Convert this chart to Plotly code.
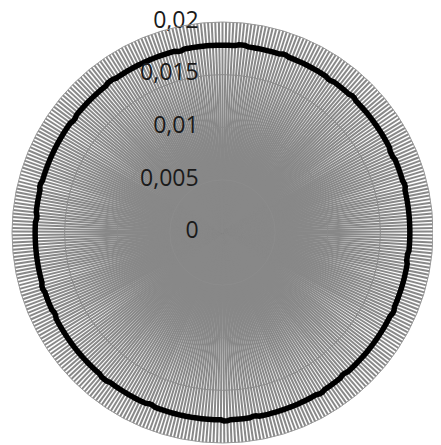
import plotly.graph_objects as go

# Daily values (black series) (roughly constant ~0.0178)
black_vals = [
    0.0178, 0.0178, 0.0178, 0.0178, 0.0178, 0.0179, 0.0179, 0.0179, 0.0178, 0.0178,
    0.0178, 0.0178, 0.0178, 0.0178, 0.0178, 0.0178, 0.0178, 0.0178, 0.0178, 0.0179,
    0.0179, 0.0178, 0.0178, 0.0178, 0.0178, 0.0178, 0.0178, 0.0178, 0.0178, 0.0178,
    0.0178, 0.0178, 0.0178, 0.0178, 0.0178, 0.0177, 0.0177, 0.0178, 0.0178, 0.0178,
    0.0178, 0.0178, 0.0178, 0.0178, 0.0179, 0.0179, 0.0178, 0.0178, 0.0178, 0.0178,
    0.0178, 0.0178, 0.0178, 0.0178, 0.0178, 0.0178, 0.0178, 0.0178, 0.0178, 0.0178,
    0.0178, 0.0178, 0.0178, 0.0178, 0.0178, 0.0177, 0.0177, 0.0177, 0.0178, 0.0178,
    0.0178, 0.0178, 0.0178, 0.0178, 0.0178, 0.0178, 0.0179, 0.0179, 0.0178, 0.0178,
    0.0178, 0.0178, 0.0178, 0.0178, 0.0178, 0.0178, 0.0178, 0.0178, 0.0178, 0.0178,
    0.0178, 0.0178, 0.0178, 0.0178, 0.0178, 0.0178, 0.0178, 0.0178, 0.0177, 0.0177,
    0.0177, 0.0178, 0.0178, 0.0178, 0.0178, 0.0178, 0.0178, 0.0178, 0.0178, 0.0178,
    0.0178, 0.0178, 0.0178, 0.0178, 0.0178, 0.0178, 0.0179, 0.0179, 0.0178, 0.0178,
    0.0178, 0.0178, 0.0178, 0.0178, 0.0178, 0.0178, 0.0178, 0.0178, 0.0178, 0.0178,
    0.0178, 0.0178, 0.0178, 0.0178, 0.0178, 0.0178, 0.0178, 0.0178, 0.0178, 0.0178,
    0.0178, 0.0177, 0.0177, 0.0178, 0.0178, 0.0178, 0.0178, 0.0178, 0.0178, 0.0178,
    0.0179, 0.0179, 0.0178, 0.0178, 0.0178, 0.0178, 0.0178, 0.0178, 0.0178, 0.0178,
    0.0178, 0.0178, 0.0178, 0.0178, 0.0178, 0.0178, 0.0178, 0.0178, 0.0178, 0.0178,
    0.0178, 0.0178, 0.0177, 0.0177, 0.0178, 0.0178, 0.0178, 0.0178, 0.0178, 0.0178,
    0.0178, 0.0179, 0.0179, 0.0178, 0.0178, 0.0178, 0.0178, 0.0178, 0.0178, 0.0178,
    0.0178, 0.0178, 0.0178, 0.0178, 0.0178, 0.0178, 0.0178, 0.0178, 0.0178, 0.0178,
    0.0178, 0.0178, 0.0178, 0.0178, 0.0178, 0.0177, 0.0177, 0.0178, 0.0178, 0.0178,
    0.0178, 0.0178, 0.0178, 0.0178, 0.0178, 0.0178, 0.0178, 0.0178, 0.0178, 0.0178,
    0.0178, 0.0179, 0.0179, 0.0179, 0.0178, 0.0178, 0.0178, 0.0178, 0.0178, 0.0178,
    0.0178, 0.0178, 0.0178, 0.0178, 0.0178, 0.0178, 0.0178, 0.0178, 0.0178, 0.0178,
    0.0178, 0.0178, 0.0178, 0.0178, 0.0178, 0.0178, 0.0178, 0.0177, 0.0177, 0.0178,
    0.0178, 0.0178, 0.0178, 0.0178, 0.0178, 0.0178, 0.0179, 0.0179, 0.0178, 0.0178,
    0.0178, 0.0178, 0.0178, 0.0178, 0.0178, 0.0178, 0.0178, 0.0178, 0.0178, 0.0178,
    0.0178, 0.0178, 0.0178, 0.0178, 0.0178, 0.0178, 0.0178, 0.0178, 0.0177, 0.0177,
    0.0178, 0.0178, 0.0178, 0.0178, 0.0178, 0.0178, 0.0178, 0.0178, 0.0179, 0.0179,
    0.0178, 0.0178, 0.0178, 0.0178, 0.0178, 0.0178, 0.0178, 0.0178, 0.0178, 0.0178,
    0.0178, 0.0178, 0.0178, 0.0178, 0.0178, 0.0178, 0.0178, 0.0178, 0.0178, 0.0178,
    0.0178, 0.0177, 0.0177, 0.0178, 0.0178, 0.0178, 0.0178, 0.0178, 0.0178, 0.0178,
    0.0178, 0.0178, 0.0178, 0.0178, 0.0178, 0.0178, 0.0178, 0.0179, 0.0179, 0.0179,
    0.0178, 0.0178, 0.0178, 0.0178, 0.0178, 0.0178, 0.0178, 0.0178, 0.0178, 0.0178,
    0.0178, 0.0178, 0.0178, 0.0178, 0.0178, 0.0178, 0.0178, 0.0178, 0.0178, 0.0178,
    0.0178, 0.0177, 0.0177, 0.0178, 0.0178, 0.0178, 0.0178, 0.0178, 0.0178, 0.0178,
    0.0178, 0.0178, 0.0178, 0.0178, 0.0178,
]

categories = [str(i) for i in range(1, len(black_vals) + 1)]

radial_ticks = [0, 0.005, 0.01, 0.015, 0.02]
radial_labels = ["0", "0,005", "0,01", "0,015", "0,02"]

PAD = "\u00a0" * 4

fig = go.Figure()
fig.add_trace(go.Scatterpolar(
    r=black_vals + [black_vals[0]],
    theta=categories + [categories[0]],
    mode="lines",
    line=dict(color="black", width=5.5),
    showlegend=False,
    hoverinfo="skip",
))
# radial axis labels, placed left of the vertical axis like the original
fig.add_trace(go.Scatterpolar(
    r=radial_ticks,
    theta=[categories[0]] * len(radial_ticks),
    mode="text",
    text=[t + PAD for t in radial_labels],
    textposition="middle left",
    textfont=dict(family="Open Sans, Liberation Sans, sans-serif", size=23, color="#1a1a1a"),
    showlegend=False,
    hoverinfo="skip",
    cliponaxis=False,
))

fig.update_layout(
    width=441, height=445,
    margin=dict(l=4, r=16, t=14, b=10),
    paper_bgcolor="white",
    showlegend=False,
    polar=dict(
        bgcolor="white",
        domain=dict(x=[0, 1], y=[0, 1]),
        angularaxis=dict(
            type="category",
            categoryorder="array",
            categoryarray=categories,
            tickmode="array",
            tickvals=categories,
            rotation=90,
            direction="clockwise",
            showticklabels=False,
            ticks="",
            showgrid=True,
            gridcolor="#888888",
            gridwidth=2.4,
            showline=True,
            linecolor="#999999",
            linewidth=1,
        ),
        radialaxis=dict(
            range=[0, 0.02],
            angle=90,
            tickvals=radial_ticks,
            showticklabels=False,
            ticks="",
            showline=False,
            showgrid=True,
            gridcolor="#8c8c8c",
            gridwidth=1,
        ),
    ),
)

fig.write_html("out.html")
